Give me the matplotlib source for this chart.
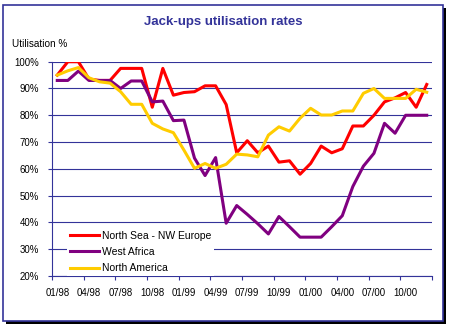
import numpy as np
import matplotlib.pyplot as plt
from matplotlib.patches import Rectangle

plt.rcParams['font.family'] = ['Liberation Sans', 'DejaVu Sans']

tick_labels = ['01/98', '04/98', '07/98', '10/98', '01/99', '04/99',
               '07/99', '10/99', '01/00', '04/00', '07/00', '10/00']

# monthly values 01/98 .. 12/00
north_sea = [95, 100, 100, 93.5, 93, 93, 97.5, 97.5, 97.5, 83, 97.5, 87.5,
             88.5, 88.8, 91, 91, 84, 66, 70.5, 66, 68.5, 62.5, 63, 58,
             62, 68.5, 66, 67.5, 76, 76, 80, 85, 86.5, 88.5, 83, 91.5]
west_africa = [93, 93, 96.5, 93, 93, 93, 90, 92.8, 92.8, 85, 85.3, 78,
               78.2, 64, 57.5, 64.2, 39.7, 46.3, 43, 39.5, 35.7, 42.2, 38.4, 34.5,
               34.5, 34.5, 38.4, 42.5, 53.4, 61, 65.8, 77, 73.3, 80, 80, 80]
north_america = [95, 96.6, 97.8, 94, 92.5, 92, 88.8, 84.1, 84.1, 77, 74.9, 73.5,
                 67, 60.2, 62, 60.2, 61.7, 65.5, 65.2, 64.5, 72.6, 75.7, 74.1, 78.9,
                 82.6, 80.1, 80.1, 81.6, 81.6, 88.2, 90, 86.3, 86.3, 86.3, 89.7, 88.6]

navy = '#333399'
W, H = 449, 328
fig = plt.figure(figsize=(W / 100, H / 100), dpi=100)

# chart frame with shadow
fig.patches.append(Rectangle((6 / W, 1 - 324 / H), 440 / W, 316 / H,
                             transform=fig.transFigure, facecolor='black',
                             edgecolor='none', zorder=-2))
fig.patches.append(Rectangle((3 / W, 1 - 321 / H), 440 / W, 316 / H,
                             transform=fig.transFigure, facecolor='white',
                             edgecolor=navy, linewidth=1.2, zorder=-1))

ax = fig.add_axes([52 / W, 1 - 276 / H, 380 / W, (276 - 61.7) / H])
ax.set_zorder(1)
ax.set_facecolor('none')

x = np.arange(len(north_sea))
ax.plot(x, north_sea, color='#FF0000', lw=2.2, label='North Sea - NW Europe')
ax.plot(x, west_africa, color='#800080', lw=2.2, label='West Africa')
ax.plot(x, north_america, color='#FFCC00', lw=2.2, label='North America')

ax.set_xlim(-0.5, len(x) - 0.5)
ax.set_ylim(20, 100)
ax.set_yticks(range(20, 101, 10))
ax.set_yticklabels([f'{v}%' for v in range(20, 101, 10)])
ax.yaxis.grid(True, color=navy, lw=0.8)
ax.set_axisbelow(True)

ax.set_xticks(np.arange(-0.5, len(x), 3))
ax.set_xticklabels([])
ax.set_xticks(np.arange(0, len(x), 3), minor=True)
ax.set_xticklabels(tick_labels, minor=True)
ax.tick_params(axis='x', which='minor', length=0, pad=9, labelsize=6.9)
ax.tick_params(axis='x', which='major', length=3, color=navy, width=0.8)
ax.tick_params(axis='y', length=3, color=navy, width=0.8, pad=6.5, labelsize=6.9)

for s in ['top', 'right']:
    ax.spines[s].set_visible(False)
for s in ['left', 'bottom']:
    ax.spines[s].set_color(navy)
    ax.spines[s].set_linewidth(0.8)

leg = ax.legend(loc='upper left', bbox_to_anchor=(0.04, 0.226), fontsize=7.5,
                frameon=True, facecolor='white', edgecolor='none', framealpha=1,
                fancybox=False, borderpad=0.3, labelspacing=0.6,
                handlelength=2.8, handletextpad=0.2, borderaxespad=0)

fig.text(223 / W, 1 - 22 / H, 'Jack-ups utilisation rates', ha='center', va='center',
         fontsize=9.5, fontweight='bold', color=navy)
fig.text(12 / W, 1 - 44 / H, 'Utilisation %', ha='left', va='center', fontsize=7.2)

fig.savefig('out.png', dpi=100)
